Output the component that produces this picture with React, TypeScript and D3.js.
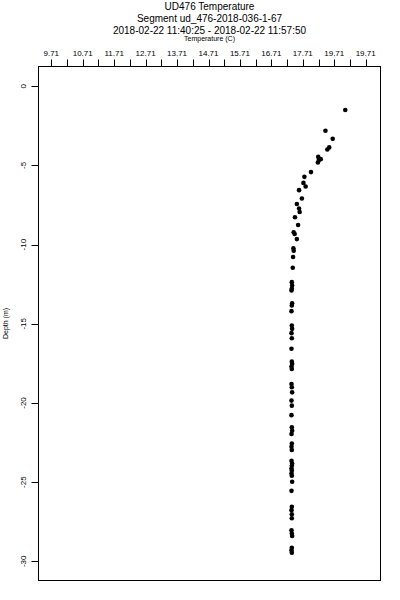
import React, { useEffect, useRef } from "react";
import * as d3 from "d3";

const titleLines = [
  "UD476 Temperature",
  "Segment ud_476-2018-036-1-67",
  "2018-02-22 11:40:25 - 2018-02-22 11:57:50",
];

// tick labels as printed on the original (note the repeated 19.71)
const tempTickLabels = ["9.71", "10.71", "11.71", "12.71", "13.71", "14.71", "15.71", "16.71", "17.71", "19.71", "19.71"];
const depthTicks = [0, -5, -10, -15, -20, -25, -30];

const temperature = [
  19.06, 18.43, 18.66, 18.55, 18.49, 18.2, 18.28, 18.22, 18.19, 17.97,
  17.76, 17.73, 17.8, 17.59, 17.68, 17.52, 17.59, 17.61, 17.46, 17.56,
  17.42, 17.45, 17.52, 17.41, 17.42, 17.4, 17.39, 17.36, 17.37, 17.36,
  17.35, 17.37, 17.36, 17.35, 17.36, 17.37, 17.35, 17.36, 17.35, 17.36,
  17.37, 17.35, 17.36, 17.35, 17.36, 17.37, 17.35, 17.36, 17.35, 17.36,
  17.37, 17.35, 17.36, 17.35, 17.36, 17.35, 17.37, 17.36, 17.35, 17.36,
  17.35, 17.36, 17.37, 17.35, 17.36, 17.35, 17.36, 17.36, 17.35, 17.36,
  17.37, 17.36, 17.35, 17.36, 17.35, 17.36,
];
const depth = [
  -1.5, -2.81, -3.32, -3.86, -3.99, -4.46, -4.6, -4.66, -4.81, -5.42,
  -5.72, -6.1, -6.33, -6.56, -7.09, -7.43, -7.72, -7.94, -8.27, -8.76,
  -9.22, -9.33, -9.65, -10.23, -10.38, -10.78, -11.46, -12.37, -12.58, -12.78,
  -12.89, -13.7, -13.84, -14.2, -15.11, -15.32, -15.59, -15.91, -16.58, -17.39,
  -17.53, -17.7, -17.85, -18.8, -19.01, -19.33, -19.85, -20.17, -20.77, -21.54,
  -21.75, -21.96, -22.56, -22.77, -22.97, -23.65, -23.82, -23.97, -24.14, -24.28,
  -24.46, -24.6, -24.98, -25.55, -26.56, -26.77, -27.03, -27.28, -28.04, -28.25,
  -28.4, -29.14, -29.3, -29.46,
];

const App = () => {
  const ref = useRef<SVGSVGElement>(null);

  useEffect(() => {
    const svg = d3.select(ref.current);
    svg.selectAll("*").remove();

    const width = 400;
    const height = 600;
    const left = 38.5;
    const right = 380.5;
    const top = 66.5;
    const bottom = 580.5;
    const font = "Liberation Sans, Arial, sans-serif";

    svg.attr("width", width).attr("height", height);

    const x = d3.scaleLinear().domain([9.71, 19.71]).range([51.3, 365.7]);
    const y = d3.scaleLinear().domain([0, -30]).range([86.3, 561.3]);
    const px = (v: number) => Math.round(v) + 0.5;

    // titles
    svg
      .selectAll(".title")
      .data(titleLines)
      .enter()
      .append("text")
      .attr("x", (left + right) / 2)
      .attr("y", (_, i) => 10 + i * 12)
      .attr("text-anchor", "middle")
      .style("font-family", font)
      .style("font-size", "10px")
      .style("fill", "#000")
      .text((d) => d);

    svg
      .append("text")
      .attr("x", (left + right) / 2)
      .attr("y", 41)
      .attr("text-anchor", "middle")
      .style("font-family", font)
      .style("font-size", "7px")
      .style("fill", "#000")
      .text("Temperature (C)");

    // top axis: ticks every half degree, labels every degree
    const tickVals = d3.range(21).map((i) => 9.71 + i * 0.5);
    svg
      .append("g")
      .attr("transform", `translate(0, ${top})`)
      .selectAll("line")
      .data(tickVals)
      .enter()
      .append("line")
      .attr("x1", (d) => px(x(d)))
      .attr("x2", (d) => px(x(d)))
      .attr("y1", 0)
      .attr("y2", -7)
      .style("stroke", "#000");

    svg
      .selectAll(".xlab")
      .data(tempTickLabels)
      .enter()
      .append("text")
      .attr("x", (_, i) => x(9.71 + i))
      .attr("y", 56)
      .attr("text-anchor", "middle")
      .style("font-family", font)
      .style("font-size", "8px")
      .style("fill", "#000")
      .text((d) => d);

    // left axis
    svg
      .append("g")
      .selectAll("line")
      .data(depthTicks)
      .enter()
      .append("line")
      .attr("x1", left - 7)
      .attr("x2", left)
      .attr("y1", (d) => px(y(d)))
      .attr("y2", (d) => px(y(d)))
      .style("stroke", "#000");

    svg
      .selectAll(".ylab")
      .data(depthTicks)
      .enter()
      .append("text")
      .attr("transform", (d) => `translate(26, ${y(d)}) rotate(-90)`)
      .attr("text-anchor", "middle")
      .style("font-family", font)
      .style("font-size", "8px")
      .style("fill", "#000")
      .text((d) => d);

    svg
      .append("text")
      .attr("transform", `translate(8, ${(top + bottom) / 2}) rotate(-90)`)
      .attr("text-anchor", "middle")
      .style("font-family", font)
      .style("font-size", "7px")
      .style("fill", "#000")
      .text("Depth (m)");

    svg
      .append("rect")
      .attr("x", left)
      .attr("y", top)
      .attr("width", right - left)
      .attr("height", bottom - top)
      .style("fill", "none")
      .style("stroke", "#000");

    svg
      .append("g")
      .selectAll("circle")
      .data(depth)
      .enter()
      .append("circle")
      .attr("cx", (_, i) => x(temperature[i]))
      .attr("cy", (d) => y(d))
      .attr("r", 2.3)
      .style("fill", "#000");
  }, []);

  return (
    <div style={{ position: "absolute", left: 0, top: 0 }}>
      <svg ref={ref}></svg>
    </div>
  );
};

export default App;
